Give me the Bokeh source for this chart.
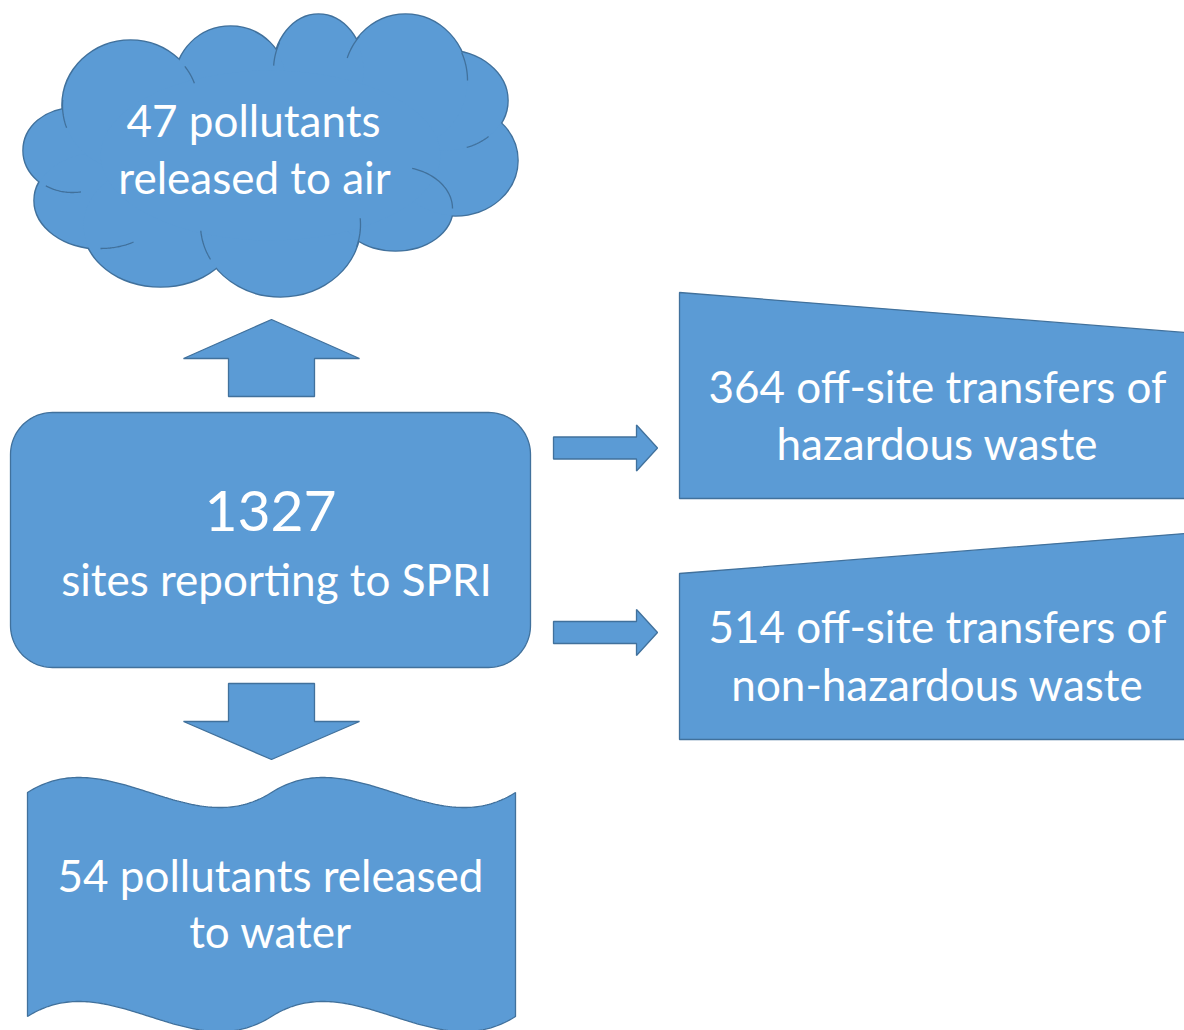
import numpy as np
from bokeh.plotting import figure
from bokeh.models import Range1d
from bokeh.core.properties import value
from bokeh.embed import file_html
from bokeh.resources import INLINE

FILL = "#5B9BD5"
EDGE = "#41719C"
FONT = "Lato"

# ---- content ----
air_count = 47
water_count = 54
site_count = 1327
haz_count = 364
nonhaz_count = 514

# ---- cloud geometry (lobes: centre x, centre y, width, height) ----
cloud_cx = [72, 100, 160, 280, 395, 455, 445, 405, 318, 230, 130]
cloud_cy = [150, 200, 225, 224, 208, 160, 100, 80, 70, 80, 105]
cloud_w = [98, 132, 154, 160, 114, 124, 124, 124, 90, 110, 136]
cloud_h = [84, 96, 122, 144, 84, 110, 100, 132, 112, 108, 130]
stub_lobe = [10, 10, 8, 7, 7, 6, 4, 3, 3, 1, 0]
stub_t0 = [160, 323, 185, 200, -25, 46, -73, -5, 151, 60, 80]
stub_t1 = [185, 340, 210, 222, 0, 70, 0, 18, 175, 90, 123]

# ---- central box ----
box = dict(x0=10, y0=412, x1=530, y1=667, r=42)

# ---- arrows ----
v_arrow_cx = [271, 271]
v_arrow_tip = [319, 759]
v_arrow_base = [358, 721]
v_arrow_end = [396, 683]
h_arrow_cy = [447.5, 632]
h_arrow_tip = [657, 657]
h_arrow_base = [636, 636]
h_arrow_start = [553, 553]

# ---- manual-input boxes (left x, top-left y, top-right y at x=1184, bottom y) ----
mi_left = [679, 679]
mi_top_left = [292, 573]
mi_top_right = [332, 533]
mi_bottom = [498, 739]

# ---- wave box ----
wave = dict(x0=27, x1=515, top=792, bottom=1016, amp=52)

W, H = 1184, 1030
p = figure(width=W, height=H, x_range=Range1d(0, W), y_range=Range1d(H, 0),
           output_backend="svg", toolbar_location=None, min_border=0)
p.axis.visible = False
p.grid.visible = False
p.outline_line_color = None
p.background_fill_color = "white"
p.border_fill_color = "white"

# cloud
p.ellipse(x=cloud_cx, y=cloud_cy, width=cloud_w, height=cloud_h,
          fill_color=FILL, line_color=EDGE, line_width=2.6)
p.ellipse(x=cloud_cx, y=cloud_cy, width=cloud_w, height=cloud_h,
          fill_color=FILL, line_color=None)
p.ellipse(x=[270], y=[155], width=[340], height=[170], fill_color=FILL, line_color=None)
sx, sy = [], []
for li, a0, a1 in zip(stub_lobe, stub_t0, stub_t1):
    t = np.radians(np.linspace(a0, a1, 30))
    sx.append(list(cloud_cx[li] + cloud_w[li] / 2 * np.cos(t)))
    sy.append(list(cloud_cy[li] + cloud_h[li] / 2 * np.sin(t)))
p.multi_line(sx, sy, line_color=EDGE, line_width=1.3)

# rounded box
def rounded_rect(x0, y0, x1, y1, r):
    xs, ys = [], []
    for cx, cy, a0 in [(x1 - r, y0 + r, 270), (x1 - r, y1 - r, 0), (x0 + r, y1 - r, 90), (x0 + r, y0 + r, 180)]:
        t = np.radians(np.linspace(a0, a0 + 90, 24))
        xs += list(cx + r * np.cos(t))
        ys += list(cy + r * np.sin(t))
    return xs, ys

bx, by = rounded_rect(**box)

# arrows
axs, ays = [], []
for cx, tip, base, end in zip(v_arrow_cx, v_arrow_tip, v_arrow_base, v_arrow_end):
    hw, sw = 88, 43
    axs.append([cx, cx + hw, cx + sw, cx + sw, cx - sw, cx - sw, cx - hw])
    ays.append([tip, base, base, end, end, base, base])
for cy, tip, base, st in zip(h_arrow_cy, h_arrow_tip, h_arrow_base, h_arrow_start):
    hh, sh = 23, 11
    axs.append([tip, base, base, st, st, base, base])
    ays.append([cy, cy - hh, cy - sh, cy - sh, cy + sh, cy + sh, cy + hh])

# manual input boxes
mxs, mys = [], []
for l, tl, tr, b in zip(mi_left, mi_top_left, mi_top_right, mi_bottom):
    slope = (tr - tl) / (1184 - l)
    xr = 1200
    mxs.append([l, xr, xr, l])
    mys.append([tl, tl + slope * (xr - l), b, b])

# wave box (double wave, cubic bezier edges)
def wave_edge(x0, x1, y0, amp, n=120):
    half = (x1 - x0) / 2
    xs, ys = [], []
    for k in range(2):
        t = np.linspace(0, 1, n)
        xs += list(x0 + k * half + t * half)
        ys += list(y0 + amp * 3 * t * (1 - t) * (2 * t - 1))
    return xs, ys

tx, ty = wave_edge(wave["x0"], wave["x1"], wave["top"], wave["amp"])
btx, bty = wave_edge(wave["x0"], wave["x1"], wave["bottom"], wave["amp"])
wx = tx + btx[::-1]
wy = ty + bty[::-1]

p.patches([bx, wx] + axs + mxs, [by, wy] + ays + mys,
          fill_color=FILL, line_color=EDGE, line_width=1.3)

# texts
lab_text = [f"{air_count} pollutants", "released to air",
            "sites reporting to SPRI",
            f"{haz_count} off-site transfers of", "hazardous waste",
            f"{nonhaz_count} off-site transfers of", "non-hazardous waste",
            f"{water_count} pollutants released", "to water"]
lab_x = [253, 254, 276, 937, 937, 937, 937, 270, 270]
lab_y = [119, 176, 578, 385, 442, 625, 683, 874, 930]
p.text(x=lab_x, y=lab_y, text=lab_text, text_font=value(FONT), text_font_size="44px",
       text_color="white", text_align="center", text_baseline="alphabetic")
p.text(x=[270], y=[510], text=[str(site_count)], text_font=value(FONT), text_font_size="57px",
       text_color="white", text_align="center", text_baseline="alphabetic")

open("out.html", "w").write(file_html(p, INLINE))
